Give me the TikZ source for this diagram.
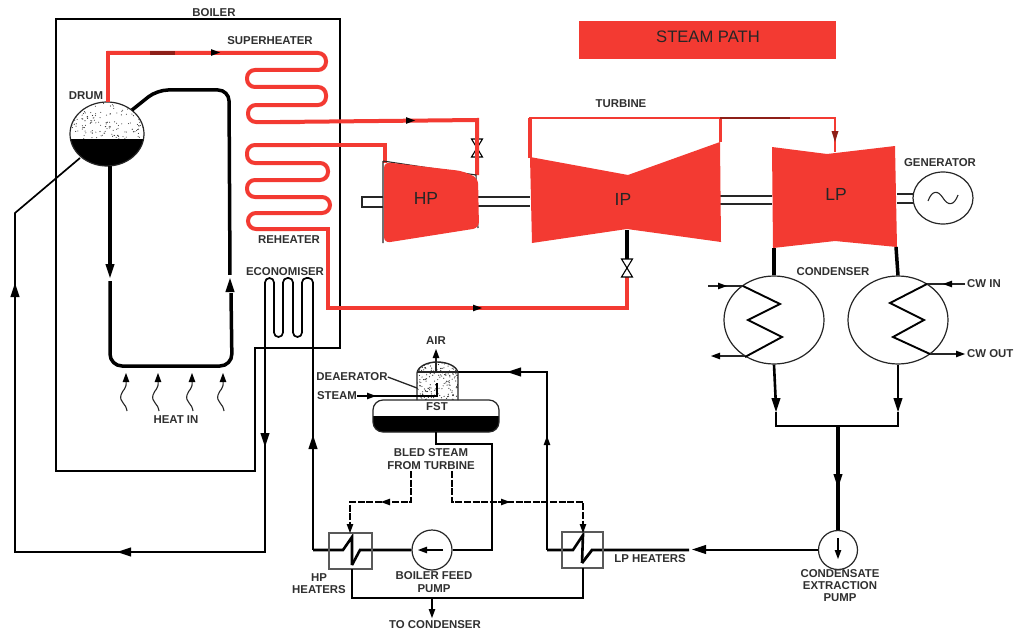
\documentclass[tikz,border=0pt]{standalone}
\usepackage{fontspec}
\setmainfont{Liberation Sans}
\usetikzlibrary{shapes.geometric}
\definecolor{steamred}{HTML}{F33A32}
\definecolor{darkred}{HTML}{8E1F18}
\definecolor{labelgrey}{HTML}{303030}
\tikzset{
  lbl/.style={font=\fontsize{11.4}{12.2}\selectfont\bfseries,text=labelgrey,inner sep=0pt,align=center},
  biglbl/.style={font=\fontsize{17.5}{18}\selectfont,text=black!85,inner sep=0pt},
  thin line/.style={draw=black!85,line width=1.3pt},
  mid line/.style={draw=black,line width=1.9pt},
  thick line/.style={draw=black,line width=3.5pt},
  steam/.style={draw=steamred,line width=4pt},
  casing/.style={fill=steamred,draw=none},
  outline/.style={draw=black!85,line width=1.1pt},
  round part/.style={ellipse,draw=black!85,line width=1.2pt,inner sep=0pt,fill=white},
  dashline/.style={draw=black,line width=1.8pt,dash pattern=on 7pt off 1.6pt},
  heatbox/.style={draw=black!65,line width=1.1pt,fill=none},
}
\newcommand{\ahead}[3]{\fill[black,shift={(#1,#2)},rotate=#3] (0,0)--(-14,-4.6)--(-14,4.6)--cycle;}
\newcommand{\aheadS}[3]{\fill[black,shift={(#1,#2)},rotate=#3] (0,0)--(-9,-3.4)--(-9,3.4)--cycle;}
\newcommand{\wiggle}[1]{\draw[black!85,line width=1.1pt,shift={(#1,375)}] (1,36) .. controls (0,28) and (-7,27) .. (-5,20) .. controls (-3,14) and (1,14) .. (0,6);\aheadS{#1}{373}{90}}
\newcommand{\valve}[2]{\draw[black,line width=1.1pt,fill=white,shift={(#1,#2)}] (-5.5,-9) -- (5.5,-9) -- (-5.5,9) -- (5.5,9) -- cycle;}
\begin{document}
\begin{tikzpicture}[x=1pt,y=-1pt]
\useasboundingbox (0,0) rectangle (1015,634);
\fill[white] (0,0) rectangle (1015,634);
\pgfmathsetseed{4242}

% boiler casing
\draw[mid line,line width=1.6pt] (56,19) -- (340,19) -- (340,348) -- (255,348) -- (255,471) -- (56,471) -- cycle;

% legend
\node[fill=steamred,minimum width=257pt,minimum height=38pt,inner sep=0pt] (legend) at (707.5,40) {};
\node[font=\fontsize{16.6}{17}\selectfont,text=black!85,inner sep=0pt] (legendtext) at (708,37) {STEAM PATH};

% drum
\begin{scope}
\clip (107,134) ellipse [x radius=37,y radius=32];
\foreach \i in {1,...,170}{\pgfmathsetmacro{\sx}{70+rnd*74}\pgfmathsetmacro{\sy}{101+rnd*38}\fill[black!80] (\sx,\sy) circle (0.55);}
\fill[black] (70,139) rectangle (144,167);
\end{scope}
\node[round part,fill=none,minimum width=74pt,minimum height=64pt] (drum) at (107,134) {};
\coordinate (drumtop) at (108,102);
\coordinate (drumbot) at (110,166);
\coordinate (drumright) at (132,110);
\coordinate (drumleft) at (80,158);

% evaporator circuit
\coordinate (downarrow) at (110,278);
\coordinate (uparrow) at (230,278);
\draw[thick line] (drumbot) -- (downarrow);
\draw[thick line,rounded corners=12pt] (downarrow) -- (110,366) -- (232,366) -- (231,293);
\draw[thick line,rounded corners=11pt] (drumright) -- (157,90) -- (229,90) -- (uparrow);
\fill[white] (104,264) rectangle (116,281);
\fill[white] (224,275) rectangle (236,293);
\draw[mid line] (110,262) -- (110,266);
\ahead{110}{278}{-90}
\ahead{230}{278}{90}

% heat
\wiggle{126}\wiggle{158}\wiggle{192}\wiggle{223}

% economiser and feed to drum
\coordinate (ecoin) at (313,435);
\draw[mid line,line width=1.7pt,rounded corners=4.5pt] (ecoin) -- (313,278) -- (302,278) -- (302,337) -- (293,337) -- (293,278) -- (283,278) -- (283,337) -- (274,337) -- (274,278) -- (265,278) -- (265,300);
\draw[mid line,line width=1.7pt] (265,290) -- (265,552) -- (15,552) -- (15,213) -- (drumleft);
\ahead{265}{447}{-90}
\ahead{117}{552}{180}
\ahead{15}{283}{90}

% superheater and reheater coils
\coordinate (hpin) at (477,175);
\draw[steam] (drumtop) -- (108,53) -- (200,53);
\draw[steam,rounded corners=8pt] (107,53) -- (326,53) -- (326,70) -- (247,70) -- (247,87) -- (326,87) -- (326,105) -- (248,105) -- (248,122) -- (300,122);
\draw[steam] (280,122) -- (477,120) -- (hpin);
\fill[darkred] (150,51) rectangle (175,55);
\aheadS{220}{52.5}{0}
\aheadS{415}{120.5}{0}
\coordinate (reheatout) at (385,161);
\draw[steam] (385,163) -- (385,145) -- (300,145);
\draw[steam,rounded corners=8pt] (310,145) -- (247,145) -- (247,163) -- (328,163) -- (328,180) -- (247,180) -- (247,197) -- (330,197) -- (330,213) -- (248,213) -- (248,229) -- (300,229);
\draw[steam] (290,229) -- (328,229) -- (328,308) -- (627,308) -- (627,277);
\aheadS{482}{308}{0}

% shaft
\draw[outline,fill=white] (383,197) -- (362,197) -- (362,207) -- (383,207);
\draw[outline] (478,197) -- (530,197) (478,206) -- (530,206);
\draw[outline] (720,196) -- (772,196) (720,204) -- (772,204);
\draw[outline] (897,194) -- (915,194) (897,203) -- (915,203);

% turbines
\coordinate (ipbot) at (627,230);
\draw[outline] (383,161) -- (383,243) (383,161) -- (476,175) -- (478,228);
\fill[casing,rounded corners=6pt] (384,162) -- (384,243) -- (479,228) -- (478,178) -- (462,171) -- cycle;
\node[biglbl] (hplabel) at (426,198) {HP};

\draw[thick line,draw=black] (ipbot) -- (627,259);
\fill[casing] (530,157) -- (628,175) -- (720,142) -- (721,242) -- (627,229) -- (532,243) -- cycle;
\node[biglbl] (iplabel) at (623,199) {IP};
\draw[steam] (530,158) -- (530,118);
\draw[steam,line width=2.6pt] (529,118) -- (722,118);
\draw[steam,line width=3pt] (720,118) -- (720,142);
\draw[draw=darkred,line width=2.6pt] (720,118) -- (790,118);
\draw[draw=steamred,line width=2.6pt] (790,118) -- (835,118) -- (835,152);
\fill[darkred,shift={(835,142)},rotate=-90] (0,0)--(-11,-3.5)--(-11,3.5)--cycle;

\fill[casing] (772,147) -- (827,154) -- (895,146) -- (897,247) -- (835,241) -- (773,248) -- cycle;
\node[biglbl] (lplabel) at (836,194) {LP};

% valves
\valve{477}{148}
\draw[steam,line width=3.4pt] (477,136) -- (477,160);
\valve{627}{268}

% generator
\node[round part,minimum width=60pt,minimum height=52pt] (gen) at (943,198) {};
\draw[black!85,line width=1.1pt] (928,201) .. controls (932,190) and (938,190) .. (943,198) .. controls (948,206) and (954,206) .. (958,195);

% condensers
\node[round part,minimum width=100pt,minimum height=88pt] (condL) at (774,320) {};
\node[round part,minimum width=100pt,minimum height=88pt] (condR) at (898,320) {};
\draw[thick line] (774,248) -- (condL.north);
\draw[thick line] (896,247) -- (condR.north);
\draw[mid line] (743,286) -- (780,304) -- (748,320) -- (782,337) -- (745,357);
\draw[mid line] (927,284) -- (890,303) -- (924,320) -- (893,337) -- (930,354);
\draw[thin line] (708,286) -- (743,286);
\aheadS{727}{286}{0}
\draw[thin line] (745,356) -- (716,356);
\aheadS{711}{356}{180}
\draw[thin line] (965,284) -- (927,284);
\aheadS{943}{284}{180}
\draw[thin line] (930,354) -- (960,354);
\aheadS{965}{354}{0}

% condensate
\coordinate (hotwell) at (838,426);
\draw[thick line,line width=2.6pt] (condL.south) -- (776,407);
\draw[thick line,line width=2.6pt] (condR.south) -- (898,407);
\draw[mid line] (776,412) -- (776,426) -- (898,426) -- (898,412);
\ahead{776}{412}{-90}
\ahead{898}{412}{-90}
\node[round part,minimum width=39pt,minimum height=39pt] (cep) at (838,550) {};
\draw[thick line] (hotwell) -- (cep.north);
\ahead{838}{488}{-90}
\draw[mid line] (838,538) -- (838,552);
\aheadS{838}{559}{-90}

% LP heater
\coordinate (lpjoin) at (547,550);
\draw[thick line,line width=2.8pt] (cep.west) -- (705,550);
\ahead{692}{549.5}{180}
\draw[thick line,line width=2.8pt] (689,550) -- (592,550) -- (582,563);
\draw[thick line,line width=2.6pt] (582,563) -- (583,535) -- (573,550) -- (lpjoin);
\draw[heatbox] (562,532) rectangle (603,568);
\draw[mid line] (lpjoin) -- (547,372) -- (458,372);
\ahead{507}{372}{180}
\aheadS{547}{436}{90}

% deaerator and feed storage tank
\begin{scope}
\clip (417,401) -- (417,373) .. controls (418,366) and (428,362) .. (437,362) .. controls (447,362) and (457,366) .. (458,373) -- (458,401) -- cycle;
\foreach \i in {1,...,170}{\pgfmathsetmacro{\sx}{417+rnd*41}\pgfmathsetmacro{\sy}{362+rnd*38}\fill[black!80] (\sx,\sy) circle (0.6);}
\end{scope}
\draw[outline,line width=1.4pt] (417,400) -- (417,373) .. controls (418,366) and (428,362) .. (437,362) .. controls (447,362) and (457,366) .. (458,373) -- (458,400);
\draw[outline,line width=1.4pt] (417,372) -- (458,372);
\begin{scope}
\clip[rounded corners=10pt] (373,400) rectangle (499,432);
\fill[black] (373,416) rectangle (499,433);
\end{scope}
\draw[outline,rounded corners=10pt,line width=1.2pt] (373,400) rectangle (499,432);
\node[lbl] (fst) at (437,407) {FST};
\draw[thin line] (436,372) -- (436,354);
\aheadS{436}{349}{90}
\node[lbl] (air) at (436,341) {AIR};
\node[lbl] (deaerator) at (352,377) {DEAERATOR};
\draw[thin line] (deaerator.east) -- (417,388);
\node[lbl] (steamlabel) at (337,396) {STEAM};
\draw[mid line] (steamlabel.east) -- (437,396) -- (437,383);
\aheadS{376}{396}{0}

% boiler feed line
\node[round part,minimum width=40pt,minimum height=40pt] (bfp) at (432,550) {};
\draw[mid line,line width=1.8pt] (436,432) -- (436,444) -- (492,444) -- (492,550) -- (bfp.east);
\draw[mid line] (443,550) -- (424,550);
\aheadS{418}{550}{180}

% HP heater
\coordinate (hpjoin) at (313,550);
\draw[thick line,line width=2.6pt] (bfp.west) -- (360,550) -- (352,565);
\draw[thick line,line width=2.6pt] (352,565) -- (352,537) -- (343,550) -- (hpjoin);
\draw[heatbox] (329,533) rectangle (372,569);
\draw[mid line] (hpjoin) -- (ecoin);
\ahead{313}{435}{90}

% bled steam
\draw[dashline] (411,471) -- (411,502) -- (350,502) -- (350,525);
\aheadS{350}{533}{-90}
\aheadS{381}{502}{180}
\draw[dashline] (452,471) -- (452,502) -- (583,502) -- (583,525);
\aheadS{583}{533}{-90}
\aheadS{510}{502}{0}

% drains to condenser
\draw[mid line,line width=1.5pt] (352,569) -- (352,598) -- (583,598) -- (583,568);
\coordinate (todrain) at (432,598);
\draw[mid line] (todrain) -- (432,612);
\aheadS{432}{618}{-90}

% labels
\node[lbl] (boiler) at (214,13) {BOILER};
\node[lbl] (superheater) at (270,41) {SUPERHEATER};
\node[lbl] (drumlabel) at (86,96) {DRUM};
\node[lbl] (reheater) at (289,240) {REHEATER};
\node[lbl] (economiser) at (285,272) {ECONOMISER};
\node[lbl] (heatin) at (176,420) {HEAT IN};
\node[lbl] (turbine) at (621,104) {TURBINE};
\node[lbl] (generator) at (940,163) {GENERATOR};
\node[lbl] (condenser) at (833,272) {CONDENSER};
\node[lbl,anchor=west] (cwin) at (967,284) {CW IN};
\node[lbl,anchor=west] (cwout) at (967,354) {CW OUT};
\node[lbl] (bled) at (431,459) {BLED STEAM\\FROM TURBINE};
\node[lbl] (hpheaters) at (319,584) {HP\\HEATERS};
\node[lbl] (bfplabel) at (434,582) {BOILER FEED\\PUMP};
\node[lbl] (lpheaters) at (650,559) {LP HEATERS};
\node[lbl] (ceplabel) at (840,585.5) {CONDENSATE\\EXTRACTION\\PUMP};
\node[lbl] (tocond) at (435,625) {TO CONDENSER};
\end{tikzpicture}
\end{document}
